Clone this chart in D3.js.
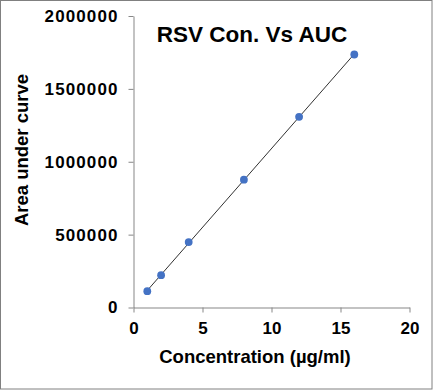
<!DOCTYPE html>
<html>
<head>
<meta charset="utf-8">
<script src="https://cdn.jsdelivr.net/npm/d3@7"></script>
<style>
  body { margin: 0; background: #fff; }
  text { font-family: Arial, "Liberation Sans", sans-serif; font-weight: bold; fill: #000; }
</style>
</head>
<body>
<svg id="chart" width="433" height="390"></svg>
<script>
"use strict";

// concentration (µg/ml) and area under curve
var concentration = [1, 2, 4, 8, 12, 16];
var auc = [112000, 222000, 449000, 877000, 1308000, 1736000];
var xTicks = [0, 5, 10, 15, 20];
var yTicks = [0, 500000, 1000000, 1500000, 2000000];

var svg = d3.select("#chart");
var plot = { l: 133.5, r: 409.5, t: 16, b: 307.5 };

svg.append("rect")
  .attr("x", 0.5).attr("y", 0.5)
  .attr("width", 431.5).attr("height", 388.5)
  .attr("fill", "#fff")
  .attr("stroke", "#808080");

var x = d3.scaleLinear().domain([0, 20]).range([plot.l, plot.r]);
var y = d3.scaleLinear().domain([0, 2000000]).range([plot.b, plot.t]);

var xAxis = svg.append("g")
  .attr("transform", "translate(0," + plot.b + ")")
  .call(d3.axisBottom(x).tickValues(xTicks).tickSize(5).tickSizeOuter(0).tickPadding(6));
var yAxis = svg.append("g")
  .attr("transform", "translate(" + plot.l + ",0)")
  .call(d3.axisLeft(y).tickValues(yTicks).tickFormat(d3.format("d")).tickSize(5).tickSizeOuter(0).tickPadding(10));

svg.selectAll(".domain, .tick line").attr("stroke", "#878787");
xAxis.selectAll("text").style("font-size", "17px").attr("dy", "0.9em");
yAxis.selectAll("text").style("font-size", "17px").style("letter-spacing", "1.1px");

// linear trendline from least squares fit
var mx = d3.mean(concentration), my = d3.mean(auc);
var sxy = d3.sum(concentration, function(d, i) { return (d - mx) * (auc[i] - my); });
var sxx = d3.sum(concentration, function(d) { return (d - mx) * (d - mx); });
var slope = sxy / sxx, intercept = my - slope * mx;
var xExt = d3.extent(concentration);

svg.append("line")
  .attr("x1", x(xExt[0])).attr("y1", y(intercept + slope * xExt[0]))
  .attr("x2", x(xExt[1])).attr("y2", y(intercept + slope * xExt[1]))
  .attr("stroke", "#1a1a1a")
  .attr("stroke-width", 0.9);

svg.selectAll("circle.pt")
  .data(concentration)
  .enter().append("circle")
  .classed("pt", true)
  .attr("cx", function(d) { return x(d); })
  .attr("cy", function(d, i) { return y(auc[i]); })
  .attr("r", 3.9)
  .attr("fill", "#4472c4");

svg.append("text")
  .attr("x", 252).attr("y", 41.5)
  .attr("text-anchor", "middle")
  .style("font-size", "22.5px")
  .text("RSV Con. Vs AUC");

svg.append("text")
  .attr("x", 255).attr("y", 362.5)
  .attr("text-anchor", "middle")
  .style("font-size", "18.5px")
  .text("Concentration (µg/ml)");

svg.append("text")
  .attr("transform", "translate(28,150) rotate(-90)")
  .attr("text-anchor", "middle")
  .style("font-size", "18.5px")
  .text("Area under curve");
</script>
</body>
</html>
